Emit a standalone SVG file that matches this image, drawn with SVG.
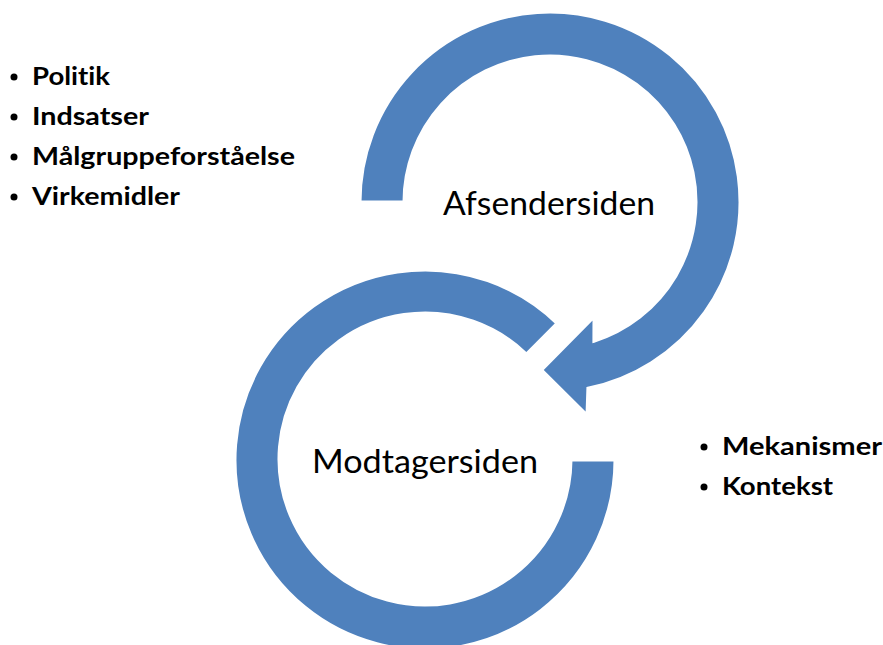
<svg xmlns="http://www.w3.org/2000/svg" width="883" height="645" viewBox="0 0 883 645">
<style>
.arc{fill:#4F81BD;stroke:#ffffff;stroke-width:3;stroke-linejoin:miter}
.lbl{font-family:Lato,"Open Sans","Liberation Sans",sans-serif;font-size:32px;fill:#000;font-variant-ligatures:none}
.li{font-family:Lato,"Open Sans","Liberation Sans",sans-serif;font-size:25px;font-weight:bold;fill:#000;font-variant-ligatures:none}
.bul{fill:#000}
</style>
<rect width="883" height="645" fill="#ffffff"/>
<g id="connectors">
<path id="modtager-arc" class="arc" d="M 615,460 A 190 190 0 1 1 557,323.3 L 526.4,354 A 146 146 0 1 0 571,460 Z"/>
<path id="afsender-arc" class="arc" d="M 360,202 A 190 190 0 1 1 587.9,388.2 L 587,415 L 541.7,370 L 594,317 L 593.9,341.2 A 146 146 0 1 0 404,202 Z"/>
</g>
<g id="node-afsender">
<text class="lbl" x="443" y="215" textLength="212" lengthAdjust="spacingAndGlyphs">Afsendersiden</text>
</g>
<g id="node-modtager">
<text class="lbl" x="312" y="472.5" textLength="226" lengthAdjust="spacingAndGlyphs">Modtagersiden</text>
</g>
<g id="list-left">
<circle class="bul" cx="14" cy="77" r="3.5"/>
<text class="li" x="32" y="85" textLength="78" lengthAdjust="spacingAndGlyphs">Politik</text>
<circle class="bul" cx="14" cy="117" r="3.5"/>
<text class="li" x="32" y="125" textLength="117" lengthAdjust="spacingAndGlyphs">Indsatser</text>
<circle class="bul" cx="14" cy="157" r="3.5"/>
<text class="li" x="32" y="165" textLength="263" lengthAdjust="spacingAndGlyphs">Målgruppeforståelse</text>
<circle class="bul" cx="14" cy="197" r="3.5"/>
<text class="li" x="32" y="205" textLength="148" lengthAdjust="spacingAndGlyphs">Virkemidler</text>
</g>
<g id="list-right">
<circle class="bul" cx="704" cy="447" r="3.5"/>
<text class="li" x="722" y="455" textLength="160" lengthAdjust="spacingAndGlyphs">Mekanismer</text>
<circle class="bul" cx="704" cy="487" r="3.5"/>
<text class="li" x="722" y="495" textLength="111" lengthAdjust="spacingAndGlyphs">Kontekst</text>
</g>
</svg>
